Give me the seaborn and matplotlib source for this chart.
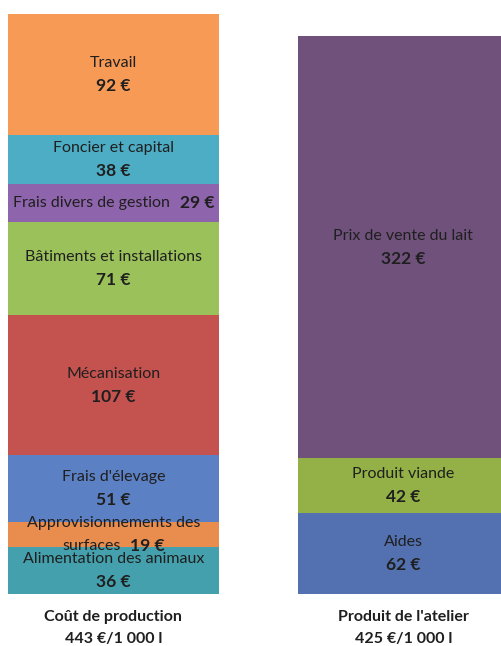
import matplotlib
matplotlib.use("Agg")
import matplotlib.pyplot as plt
import numpy as np
import seaborn as sns

# deux barres empilees : cout de production / produit de l'atelier
bars = ["Coût de production", "Produit de l'atelier"]
totals = ["443 €/1 000 l", "425 €/1 000 l"]

cout_labels = ["Alimentation des animaux", "Approvisionnements des surfaces",
               "Frais d'élevage", "Mécanisation", "Bâtiments et installations",
               "Frais divers de gestion", "Foncier et capital", "Travail"]
cout_values = [36, 19, 51, 107, 71, 29, 38, 92]
cout_colors = ["#44A0AC", "#E88D4E", "#5B80C4", "#C4524F", "#9BC15A",
               "#8E64AC", "#4DADC4", "#F79A56"]

prod_labels = ["Aides", "Produit viande", "Prix de vente du lait"]
prod_values = [62, 42, 322]
prod_colors = ["#5371B0", "#93B146", "#6F517C"]

sns.set_theme(style="white")
plt.rcParams['font.family'] = ['Lato', 'DejaVu Sans']
txt = "#1f1f1f"
FS = 11.5
FV = 12.5

fig = plt.figure(figsize=(5.02, 6.46), dpi=100)
ax = fig.add_axes([0, 0.0805, 1, 0.9195])

stacks = [(cout_labels, cout_values, cout_colors),
          (prod_labels, prod_values, prod_colors)]

for i, (labels, values, colors) in enumerate(stacks):
    tops = np.cumsum(values)
    # on dessine du haut vers le bas, chaque barre cache la precedente
    for j in range(len(values) - 1, -1, -1):
        sns.barplot(x=[bars[i]], y=[tops[j]], order=bars, color=colors[j],
                    saturation=1, width=0.728, ax=ax, linewidth=0)

def put(s, x, y, dx, dy, bold=False, fs=FS):
    ax.annotate(s, (x, y), xytext=(dx, dy), textcoords="offset points",
                ha="center", va="center", fontsize=fs, color=txt,
                fontweight="bold" if bold else "normal", annotation_clip=False)

for i, (labels, values, colors) in enumerate(stacks):
    tops = np.cumsum(values)
    for j, (name, v) in enumerate(zip(labels, values)):
        mid = tops[j] - v / 2
        val = f"{v} €"
        if name == "Frais divers de gestion":
            put(name, i, mid, -15.8, 0)
            put(val, i, mid, 60.5, 0, bold=True, fs=FV)
        elif name == "Approvisionnements des surfaces":
            put("Approvisionnements des", i, mid, 0, 8.3)
            put("surfaces", i, mid, -16, -8.3)
            put(val, i, mid, 24.5, -8.3, bold=True, fs=FV)
        else:
            put(name, i, mid, 0, 8.3)
            put(val, i, mid, 0, -8.3, bold=True, fs=FV)

for i in range(2):
    put(bars[i], i, 0, 0, -16.6, bold=True)
    put(totals[i], i, 0, 0, -32.4, bold=True)

ax.set_xlim(-0.391, 1.340)
ax.set_ylim(0, 453.8)
ax.set_xlabel("")
ax.set_ylabel("")
ax.set_xticks([])
ax.set_yticks([])
sns.despine(ax=ax, left=True, bottom=True)

fig.savefig("out.png", dpi=100, facecolor="white")
